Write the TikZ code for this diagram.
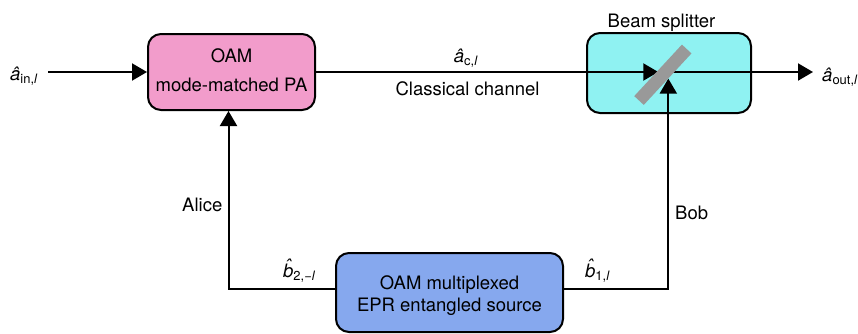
\documentclass[tikz,border=0pt]{standalone}
\usepackage{fontspec}
\setmainfont{TeX Gyre Heros}
\usetikzlibrary{arrows.meta}
\definecolor{papink}{HTML}{F29CCB}
\definecolor{bscyan}{HTML}{8FF2F2}
\definecolor{eprblue}{HTML}{86A8EE}
\definecolor{bargray}{HTML}{999999}
\newcommand{\ahat}{{\itshape\^a}}
\newcommand{\hatb}{{\itshape\ooalign{b\cr\hidewidth\raisebox{0.27em}{\char"02C6}\hidewidth\kern0.05em\cr}}}
\begin{document}
\begin{tikzpicture}[x=1pt,y=-1pt,
  font=\fontsize{18.5}{22.4}\selectfont,
  box/.style={draw=black, line width=2pt, rounded corners=13pt, inner sep=0pt, align=center},
  conn/.style={line width=2pt},
  arr/.style={conn, -{Triangle[width=17pt,length=15pt]}},
  lbl/.style={inner sep=0pt},
  bar/.style={line width=13pt, draw=bargray}]
\useasboundingbox (0,0) rectangle (858,333);

% boxes
\node[box, fill=papink, minimum width=167pt, minimum height=76pt] (pa) at (231.5,72)
  {OAM\\[6.6pt]mode-matched PA\rule[-4.3pt]{0pt}{0pt}};
\node[box, fill=bscyan, minimum width=164pt, minimum height=80pt] (bs) at (669,73) {};
\node[box, fill=eprblue, minimum width=227pt, minimum height=79pt] (epr) at (449.5,292.5)
  {\rule{0pt}{19.9pt}OAM multiplexed\\EPR entangled source};

% coordinates
\coordinate (inS) at (48,72);
\coordinate (bsin) at (658.3,72);
\coordinate (bsout) at (668,72);
\coordinate (outE) at (813,72);
\coordinate (bsbot) at (668.3,78.6);
\coordinate (aliceC) at (228.5,289);
\coordinate (bobC) at (668.3,289);
\coordinate (barA) at (639,100.5);
\coordinate (barB) at (686.7,49);

% connectors
\draw[arr] (inS) -- (pa.west);
\draw[arr] (pa.east) -- (bsin);
\draw[arr] (bsout) -- (outE);
\draw[arr] (epr.west |- aliceC) -- (aliceC) -- (aliceC |- pa.south);
\draw[arr] (epr.east |- bobC) -- (bobC) -- (bsbot);

% beam splitter plate
\draw[bar] (barA) -- (barB);

% labels
\node[lbl, anchor=base west] (ain) at (10,80) {\ahat\textsubscript{in,\textit{l}}};
\node[lbl, anchor=base] (ac) at (466,62) {\ahat\textsubscript{c,\textit{l}}};
\node[lbl, anchor=base] (cc) at (467.5,95) {Classical channel};
\node[lbl, anchor=base] (bsl) at (661.5,27) {Beam splitter};
\node[lbl, anchor=base west] (aout) at (822,81) {\ahat\textsubscript{out,\textit{l}}};
\node[lbl, anchor=base east] (alice) at (222.5,211.5) {Alice};
\node[lbl, anchor=base west] (bob) at (675,219.5) {Bob};
\node[lbl, anchor=base west] (b2) at (283,277) {\hatb\textsubscript{2,−\textit{l}}};
\node[lbl, anchor=base west] (b1) at (585,277) {\hatb\textsubscript{1,\textit{l}}};
\end{tikzpicture}
\end{document}
